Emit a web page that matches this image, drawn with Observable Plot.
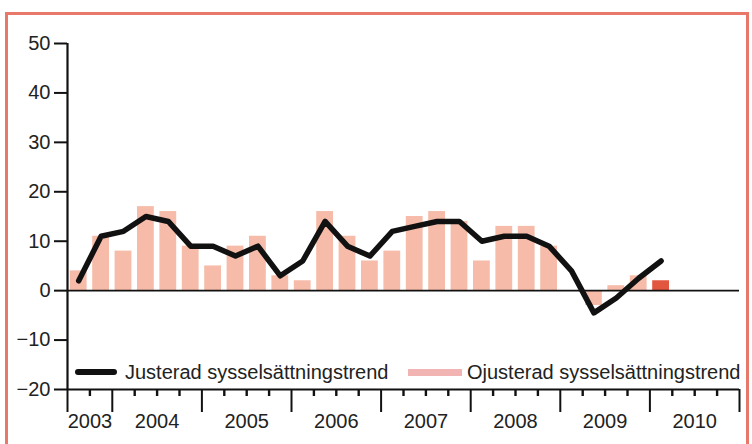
<!DOCTYPE html>
<html>
<head>
<meta charset="utf-8">
<script src="https://cdn.jsdelivr.net/npm/d3@7"></script>
<script src="https://cdn.jsdelivr.net/npm/@observablehq/plot@0.6"></script>
<style>
  html, body { margin: 0; padding: 0; background: #fff; overflow: hidden; }
  #wrap { position: relative; width: 752px; height: 444px; font-family: "Liberation Sans", Arial, sans-serif; }
  #frame { position: absolute; left: 5px; top: 12px; width: 744px; height: 460px; border: 3px solid #e8786a; box-sizing: border-box; pointer-events: none; }
  #chart { position: absolute; left: 0; top: 0; }
  .leg { position: absolute; font-size: 20px; color: #222; white-space: nowrap; line-height: 1; }
  .sw { position: absolute; }
</style>
</head>
<body>
<div id="wrap">
  <div id="chart"></div>
  <div id="frame"></div>
  <div class="sw" style="left:75px; top:369px; width:42px; height:6px; background:#111; border-radius:3px;"></div>
  <div class="leg" style="left:125px; top:362px;">Justerad sysselsättningstrend</div>
  <div class="sw" style="left:408px; top:369px; width:54px; height:7px; background:#f2b3b3;"></div>
  <div class="leg" style="left:467px; top:362px;">Ojusterad sysselsättningstrend</div>
</div>
<script>
// Quarters shown, from 2003 K3 to 2010 K1
const periods = ["2003K3","2003K4",
  "2004K1","2004K2","2004K3","2004K4",
  "2005K1","2005K2","2005K3","2005K4",
  "2006K1","2006K2","2006K3","2006K4",
  "2007K1","2007K2","2007K3","2007K4",
  "2008K1","2008K2","2008K3","2008K4",
  "2009K1","2009K2","2009K3","2009K4",
  "2010K1"];
// Ojusterad sysselsättningstrend (bars)
const ojusterad = [4, 11, 8, 17, 16, 9, 5, 9, 11, 3, 2, 16, 11, 6, 8, 15, 16, 14, 6, 13, 13, 9, 0, -3, 1, 3, 2];
// Justerad sysselsättningstrend (line)
const justerad = [2, 11, 12, 15, 14, 9, 9, 7, 9, 3, 6, 14, 9, 7, 12, 13, 14, 14, 10, 11, 11, 9, 4, -4.5, -1.5, 2.5, 6];
const years = [2003, 2004, 2005, 2006, 2007, 2008, 2009, 2010];
const yTicks = [-20, -10, 0, 10, 20, 30, 40, 50];

const pink = "#f6bca9";
const red = "#e2553f";

// quarter index: 0 = start of 2003 K3
const firstYear = +periods[0].slice(0, 4);
const firstQ = +periods[0].slice(5);
const qIndex = (y, q) => (y - firstYear) * 4 + (q - firstQ);
const data = periods.map((p, i) => ({
  p, t: qIndex(+p.slice(0, 4), +p.slice(5)), o: ojusterad[i], j: justerad[i], last: i === periods.length - 1
}));
const xMax = qIndex(years[years.length - 1] + 1, 1);
const yearSpans = years.map(y => {
  const a = Math.max(0, qIndex(y, 1)), b = Math.min(xMax, qIndex(y + 1, 1));
  return {label: String(y), a, b, mid: (a + b) / 2};
});
const majorTicks = [0, ...yearSpans.map(s => s.b)];
const minorTicks = d3.range(0, xMax + 1);

const chart = Plot.plot({
  width: 752,
  height: 444,
  marginLeft: 67,
  marginRight: 13,
  marginTop: 43,
  marginBottom: 55,
  style: {fontFamily: "'Liberation Sans', Arial, sans-serif", fontSize: "20px", color: "#222", background: "transparent"},
  x: {domain: [0, xMax], axis: null},
  y: {domain: [-20, 50], axis: null},
  marks: [
    Plot.rectY(data.filter(d => !d.last), {x1: "t", x2: d => d.t + 1, y: "o", fill: pink, insetLeft: 2.8, insetRight: 2.8}),
    Plot.rectY(data.filter(d => d.last), {x1: "t", x2: d => d.t + 1, y: "o", fill: red, insetLeft: 2.8, insetRight: 2.8}),
    Plot.ruleY([0], {stroke: "#111", strokeWidth: 1.6}),
    Plot.ruleY([-20], {stroke: "#111", strokeWidth: 2}),
    Plot.ruleX([0], {stroke: "#111", strokeWidth: 2.2}),
    Plot.line(data, {x: d => d.t + 0.5, y: "j", stroke: "#111", strokeWidth: 5.5, strokeLinejoin: "round", strokeLinecap: "round"}),
    Plot.axisY({ticks: yTicks, tickSize: 13, tickPadding: 4, strokeWidth: 2, stroke: "#111", fontSize: 20, fill: "#222"}),
    Plot.axisX({ticks: majorTicks, tickSize: 23, tickFormat: () => "", strokeWidth: 2, stroke: "#111"}),
    Plot.axisX({ticks: minorTicks.filter(t => !majorTicks.includes(t)), tickSize: 7, tickFormat: () => "", strokeWidth: 2.4, stroke: "#111"}),
    Plot.text(yearSpans, {x: "mid", text: "label", frameAnchor: "bottom", dy: 38, fontSize: 20, fill: "#222"})
  ]
});
document.getElementById("chart").appendChild(chart);
</script>
</body>
</html>
